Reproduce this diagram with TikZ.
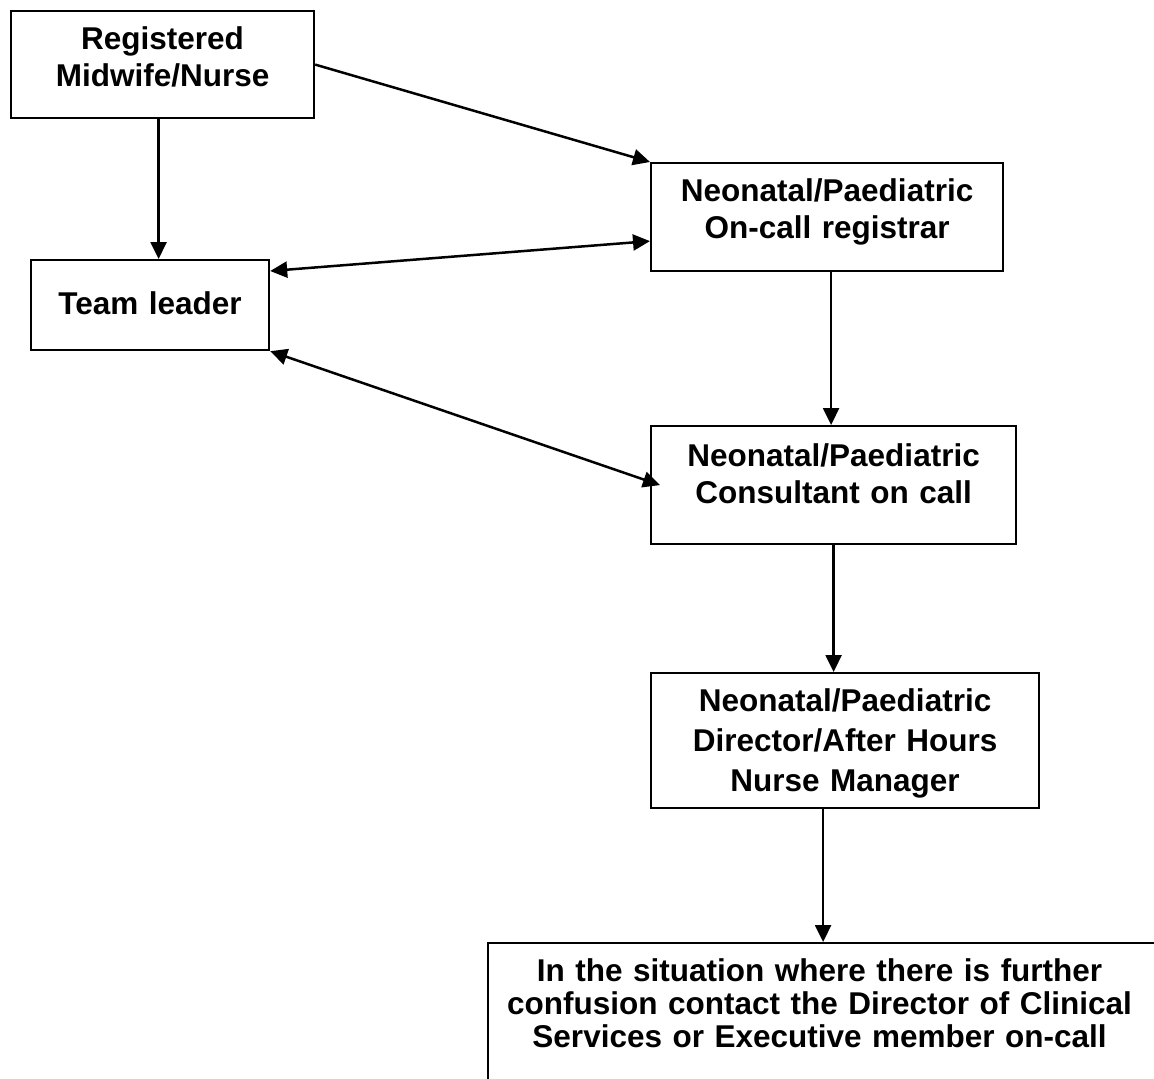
\documentclass[tikz,border=0pt]{standalone}
\usepackage{fontspec}
\setmainfont{Liberation Sans}
\usetikzlibrary{arrows.meta}

\begin{document}
\begin{tikzpicture}[x=1pt,y=-1pt,
  box/.style={draw,line width=2.2pt,anchor=north west,inner sep=0pt,align=center,
    font=\bfseries\fontsize{31.5}{37}\selectfont},
  link/.style={line width=2.5pt,-{Triangle[length=17pt,width=16pt]}},
  twoway/.style={line width=2.5pt,{Triangle[length=17pt,width=16pt]}-{Triangle[length=17pt,width=16pt]}}]
  \useasboundingbox (0,0) rectangle (1154,1079);
  \clip (0,0) rectangle (1154,1079);
  \node[box,text width=303pt,text height=38pt,text depth=69pt] (midwife) at (10,10)
    {Registered\\Midwife/Nurse};
  \node[box,text width=352pt,text height=38pt,text depth=70pt] (registrar) at (650,162)
    {Neonatal/Paediatric\\On-call registrar};
  \node[box,text width=238pt,text height=54pt,text depth=36pt] (leader) at (30,259)
    {Team leader};
  \node[box,text width=365pt,text height=40pt,text depth=78pt] (consultant) at (650,425)
    {Neonatal/Paediatric\\Consultant on call};
  \node[box,text width=388pt,text height=38pt,text depth=97pt,
    font=\bfseries\fontsize{31.5}{40}\selectfont] (director) at (650,672)
    {Neonatal/Paediatric\\Director/After Hours\\Nurse Manager};
  \node[box,minimum width=720pt,minimum height=170pt] (escalate) at (487,942) {};
  \node[box,draw=none,text width=663pt,text height=38pt,text depth=100pt,
    font=\bfseries\fontsize{31.5}{33}\selectfont] (escalatetext) at (487,942)
    {In the situation where there is further\\confusion contact the Director of Clinical\\Services or Executive member on-call};
  \draw[link] ([xshift=-4pt]midwife.south) -- ([xshift=-4pt]midwife.south |- leader.north);
  \draw[link] (midwife.east) -- (registrar.north west);
  \draw[twoway] ([yshift=-12pt]leader.north east) -- ([yshift=-24pt]registrar.west);
  \draw[twoway] (leader.south east) -- ([xshift=10pt]consultant.west);
  \draw[link] ([xshift=4pt]registrar.south) -- ([xshift=4pt]registrar.south |- consultant.north);
  \draw[link] (consultant.south) -- (consultant.south |- director.north);
  \draw[link] ([xshift=-22pt]director.south) -- ([xshift=-22pt]director.south |- escalate.north);
\end{tikzpicture}
\end{document}
